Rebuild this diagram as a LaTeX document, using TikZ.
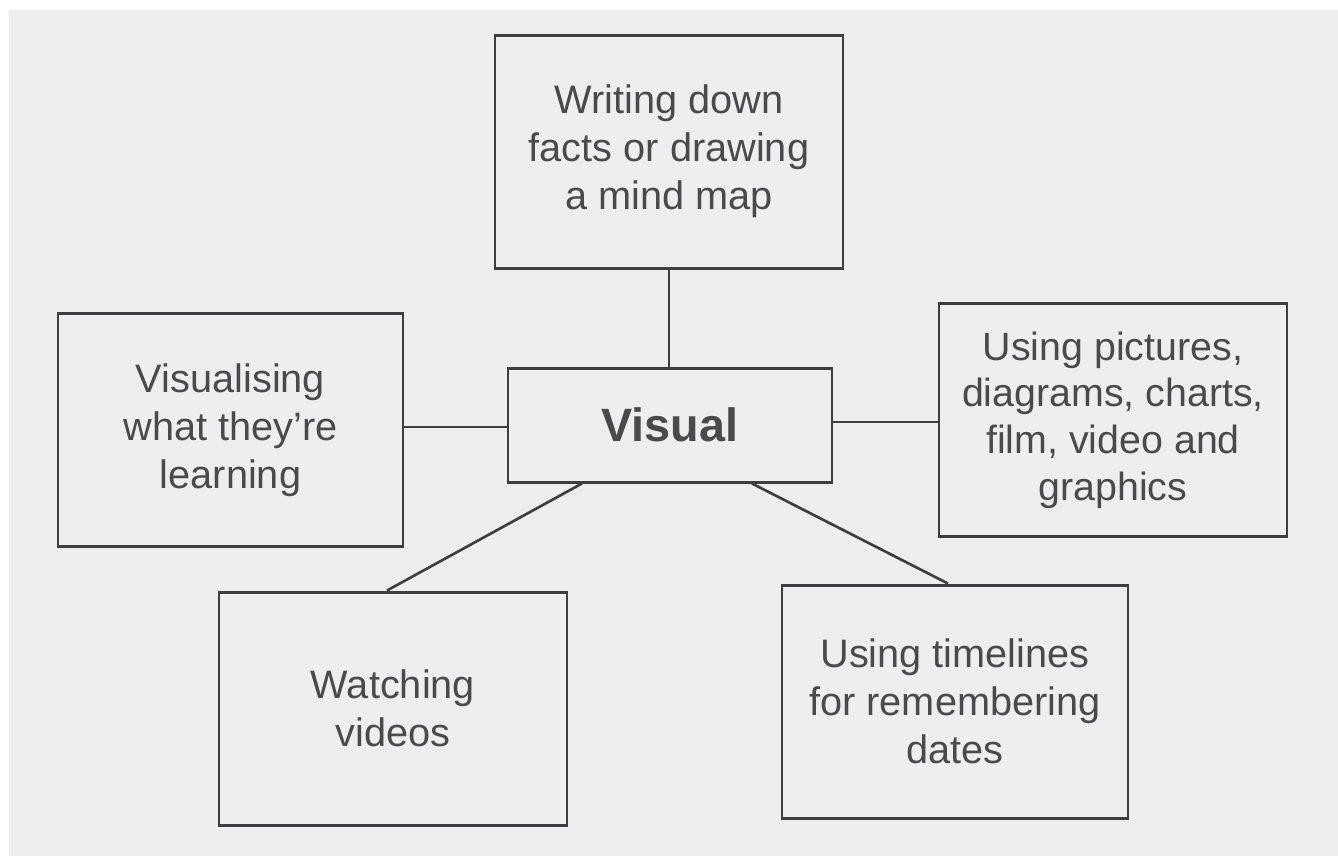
\documentclass[tikz,border=0pt]{standalone}
\usepackage{fontspec}
\setmainfont{Liberation Sans}
\usetikzlibrary{positioning}
\definecolor{paper}{HTML}{EEEDEF}
\definecolor{ink}{HTML}{3E3E3E}
\definecolor{print}{HTML}{4A4A4A}

\begin{document}
\begin{tikzpicture}[
    idea/.style={draw=ink, line width=0.85pt, inner sep=0pt, align=center,
        text=print, minimum width=3.47cm, minimum height=2.33cm,
        font=\fontsize{11.3}{13.7}\selectfont},
    hub/.style={idea, minimum width=3.24cm, minimum height=1.14cm,
        font=\bfseries\fontsize{13.3}{16}\selectfont},
    link/.style={draw=ink, line width=0.75pt}
]
% scanned page
\useasboundingbox (0,0) rectangle (13.38,-8.56);
\fill[white] (0,0) rectangle (13.38,-8.56);
\fill[paper] (0.09,-0.10) rectangle (13.38,-8.56);
%% The hub and its five ideas
\node[hub] (visual) at (6.70,-4.25) {Visual};
\node[idea, minimum width=3.48cm] (writing) at (6.69,-1.515) {Writing down\\facts or drawing\\a mind map};
\node[idea, minimum width=3.45cm] (imagine) at (2.305,-4.30) {Visualising\\what they’re\\learning};
\node[idea, minimum width=3.48cm, font=\fontsize{11.2}{13.3}\selectfont] (pictures) at (11.13,-4.20) {Using pictures,\\diagrams, charts,\\film, video and\\graphics};
\node[idea, minimum width=3.48cm] (videos) at (3.93,-7.085) {Watching\\videos};
\node[idea, minimum width=3.46cm] (timelines) at (9.55,-7.015) {Using timelines\\for remembering\\dates};
% foot points of the slanted links
\coordinate (footL) at ([xshift=-8.8mm]visual.south);
\coordinate (footR) at ([xshift=8.2mm]visual.south);
%% Links
\draw[link] (writing.south) -- (writing.south |- visual.north); % up
\draw[link] ([yshift=0.3mm]imagine.east) -- ([yshift=0.3mm]imagine.east -| visual.west); % left
\draw[link] ([yshift=-0.2mm]visual.east |- pictures.west) -- ([yshift=-0.2mm]pictures.west); % right
\draw[link] (footL) -- ([xshift=-0.6mm]videos.north); % down left
\draw[link] (footR) -- ([xshift=-0.7mm]timelines.north); % down right
\end{tikzpicture}
\end{document}
